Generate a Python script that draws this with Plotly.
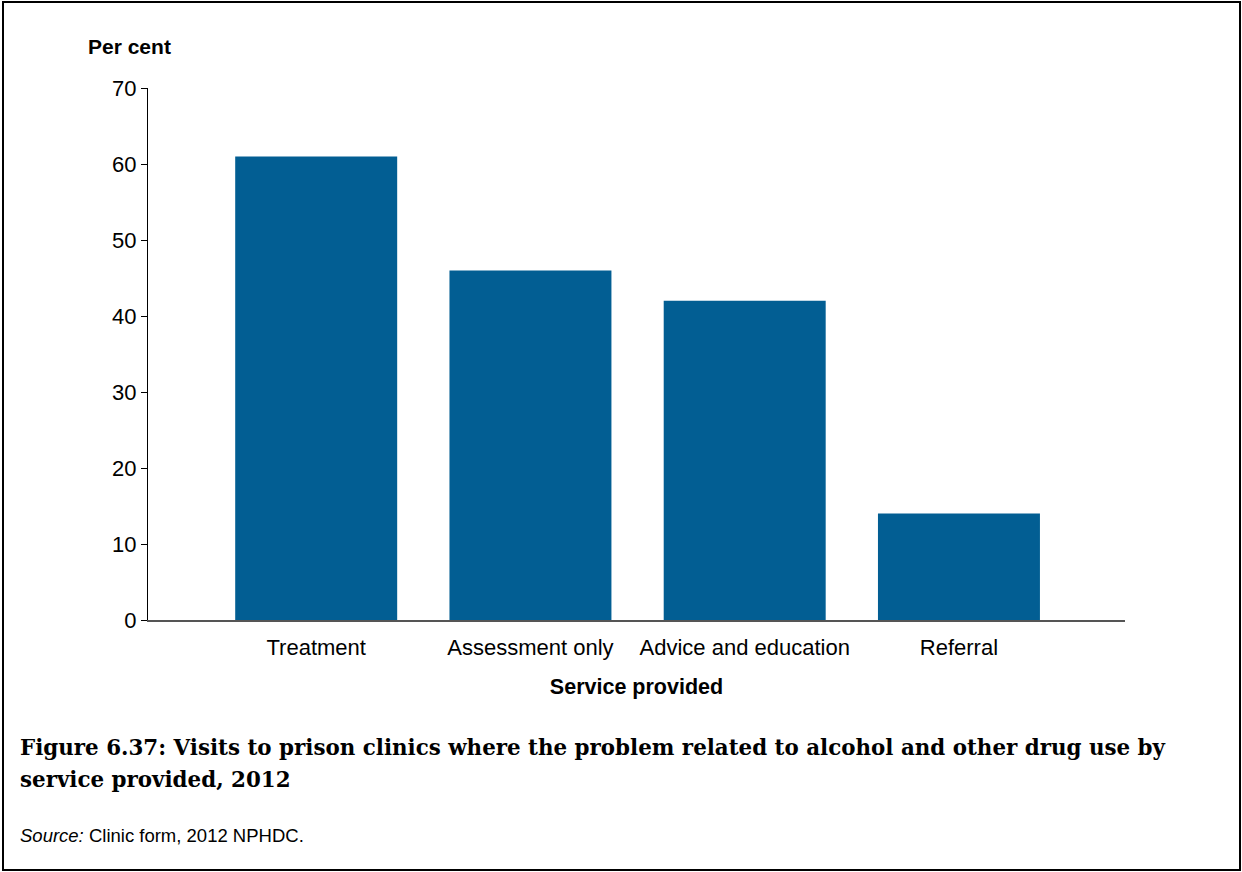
import plotly.graph_objects as go

categories = ["Treatment", "Assessment only", "Advice and education", "Referral"]
values = [61, 46, 42, 14]
y_ticks = [0, 10, 20, 30, 40, 50, 60, 70]

W, H = 1242, 872
L, R, T, B = 148, 1125, 88, 620  # plot area pixel box
pw, ph = R - L, B - T

def px(x):
    return (x - L) / pw

def py(y):
    return (B - y) / ph

fig = go.Figure(go.Bar(
    x=categories, y=values, width=0.756,
    marker=dict(color="#025E93", line=dict(width=0)),
))

fig.update_layout(
    width=W, height=H,
    margin=dict(l=L, r=W - R, t=T, b=H - B, pad=0),
    paper_bgcolor="white", plot_bgcolor="white",
    showlegend=False,
    font=dict(family="Liberation Sans, Arial, sans-serif", size=22, color="#000"),
    xaxis=dict(
        range=[-0.785, 3.775], showgrid=False, zeroline=False,
        showline=True, linecolor="#555", linewidth=2,
        ticks="", tickfont=dict(size=22), ticklabelstandoff=7,
        title=dict(text="<b>Service provided</b>", font=dict(size=21.5), standoff=20),
    ),
    yaxis=dict(
        range=[0, 70], tickvals=y_ticks, showgrid=False, zeroline=False,
        showline=True, linecolor="#000", linewidth=1,
        ticks="outside", ticklen=6, tickcolor="#000", tickfont=dict(size=22),
    ),
)

fig.add_annotation(xref="paper", yref="paper", x=px(86), y=py(47), xanchor="left", yanchor="middle",
                   text="<b>Per cent</b>", showarrow=False, font=dict(size=21))

fig.add_annotation(xref="paper", yref="paper", x=px(18), y=py(747), xanchor="left", yanchor="middle",
                   text="<b>Figure 6.37: Visits to prison clinics where the problem related to alcohol and other drug use by</b>",
                   showarrow=False,
                   font=dict(family="DejaVu Serif, serif", size=21.4, color="#000"))
fig.add_annotation(xref="paper", yref="paper", x=px(18), y=py(779), xanchor="left", yanchor="middle",
                   text="<b>service provided, 2012</b>",
                   showarrow=False,
                   font=dict(family="DejaVu Serif, serif", size=21.4, color="#000"))

fig.add_annotation(xref="paper", yref="paper", x=px(18), y=py(836), xanchor="left", yanchor="middle",
                   text="<i>Source:</i> Clinic form, 2012 NPHDC.", showarrow=False,
                   font=dict(size=18.5))

fig.add_shape(type="rect", xref="paper", yref="paper",
              x0=px(3), x1=px(1240), y0=py(870), y1=py(2),
              line=dict(color="#000", width=2), fillcolor="rgba(0,0,0,0)", layer="above")

fig.write_html("out.html", config={"displayModeBar": False},
               post_script="document.body.style.margin='0';document.body.style.overflow='hidden';")
